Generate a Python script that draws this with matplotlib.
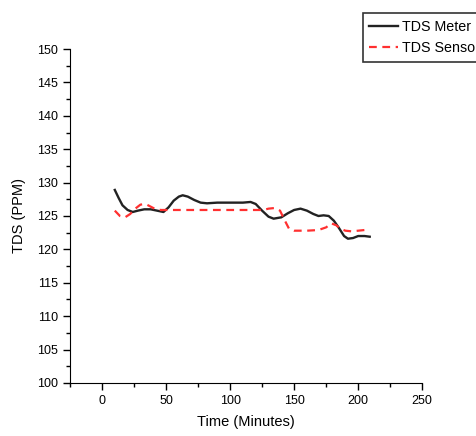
import matplotlib
matplotlib.use("Agg")
import matplotlib.pyplot as plt
from matplotlib.ticker import MultipleLocator

plt.rcParams['font.family'] = ['Liberation Sans', 'DejaVu Sans']

# TDS meter readings (minutes, ppm)
t_meter = [10, 13, 16, 20, 24, 28, 33, 38, 43, 48, 52, 56, 60, 63, 67, 72, 77, 82,
           90, 100, 110, 116, 120, 125, 130, 134, 140, 145, 150, 155, 160, 165,
           169, 173, 177, 181, 185, 189, 192, 196, 200, 205, 209]
tds_meter = [128.9, 127.7, 126.6, 125.9, 125.6, 125.8, 126.0, 126.0, 125.8, 125.6,
             126.3, 127.3, 127.9, 128.1, 127.9, 127.4, 127.0, 126.9,
             127.0, 127.0, 127.0, 127.1, 126.8, 125.8, 124.9, 124.6, 124.8, 125.4,
             125.9, 126.1, 125.8, 125.3, 125.0, 125.1, 125.0, 124.3, 123.2, 122.0,
             121.6, 121.7, 122.0, 122.0, 121.9]

# TDS sensor readings
t_sensor = [10, 14, 18, 22, 26, 30, 34, 38, 42, 46, 50, 60, 80, 100, 120, 126,
            130, 135, 139, 142, 146, 150, 160, 169, 175, 179, 183, 186, 190, 195,
            200, 205, 209]
tds_sensor = [125.8, 125.0, 124.8, 125.3, 126.1, 126.7, 126.8, 126.4, 126.0, 125.9,
              125.9, 125.9, 125.9, 125.9, 125.9, 125.9, 126.1, 126.2, 125.8, 124.6,
              123.1, 122.8, 122.8, 122.9, 123.3, 123.9, 123.6, 123.1, 122.8, 122.7,
              122.8, 122.9, 122.9]

fig = plt.figure(figsize=(4.76, 4.36), dpi=100)
ax = fig.add_axes([0.147, 0.1216, 0.74, 0.766])

ax.plot(t_meter, tds_meter, color='#222222', lw=1.7, label='TDS Meter')
ax.plot(t_sensor, tds_sensor, color='#ff3030', lw=1.6, ls=(0, (3.5, 2.5)),
        label='TDS Sensor')

ax.set_xlim(-25, 250)
ax.set_ylim(100, 150)
ax.xaxis.set_major_locator(MultipleLocator(50))
ax.xaxis.set_minor_locator(MultipleLocator(25))
ax.yaxis.set_major_locator(MultipleLocator(5))
ax.yaxis.set_minor_locator(MultipleLocator(2.5))
ax.spines['top'].set_visible(False)
ax.spines['right'].set_visible(False)
ax.tick_params(which='major', direction='out', length=5, width=1, labelsize=9)
ax.tick_params(which='minor', direction='out', length=3, width=1)

ax.set_xlabel('Time (Minutes)', fontsize=10.5, labelpad=6)
ax.set_ylabel('TDS (PPM)', fontsize=10.5, labelpad=8)

# legend box runs off the right edge, as in the source figure
leg = fig.legend(loc='upper left', bbox_to_anchor=(0.762, 0.970),
                 fontsize=10.3, frameon=True, fancybox=False, handlelength=2.0,
                 borderpad=0.45, labelspacing=0.54, handletextpad=0.3,
                 borderaxespad=0)
leg.get_frame().set_edgecolor('black')
leg.get_frame().set_linewidth(1.2)

fig.savefig('out.png', dpi=100)
